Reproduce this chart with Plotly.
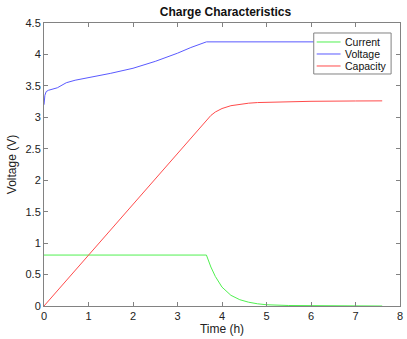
import plotly.graph_objects as go

# Time samples (h)
t_current = [0, 1, 2, 3, 3.65, 3.75, 3.85, 4.0, 4.2, 4.4, 4.6, 4.8, 5.0, 5.5, 6.0, 7.0, 7.6]
current = [0.81, 0.81, 0.81, 0.81, 0.81, 0.62, 0.47, 0.30, 0.17, 0.10, 0.06, 0.035, 0.02, 0.008, 0.004, 0.001, 0.0]

t_voltage = [0, 0.02, 0.05, 0.1, 0.3, 0.5, 0.7, 1.0, 1.5, 2.0, 2.5, 3.0, 3.3, 3.65, 5.0, 7.6]
voltage = [3.2, 3.35, 3.41, 3.43, 3.47, 3.55, 3.59, 3.63, 3.70, 3.78, 3.89, 4.02, 4.11, 4.20, 4.20, 4.20]

t_capacity = [0, 3.65, 3.75, 3.85, 4.0, 4.2, 4.4, 4.6, 4.8, 5.0, 5.5, 6.0, 7.0, 7.6]
capacity = [0, 2.96, 3.03, 3.085, 3.14, 3.185, 3.21, 3.225, 3.235, 3.24, 3.25, 3.255, 3.26, 3.262]

series_names = ["Current", "Voltage", "Capacity"]
series_colors = ["rgb(80,240,80)", "rgb(90,90,255)", "rgb(255,75,75)"]

x_ticks = [0, 1, 2, 3, 4, 5, 6, 7, 8]
y_ticks = [0, 0.5, 1, 1.5, 2, 2.5, 3, 3.5, 4, 4.5]
y_labels = ["0", "0.5", "1", "1.5", "2", "2.5", "3", "3.5", "4", "4.5"]

font = "Liberation Sans, Arial, sans-serif"
frame = "rgb(130,130,130)"

fig = go.Figure()
for xs, ys, name, color in zip([t_current, t_voltage, t_capacity],
                               [current, voltage, capacity],
                               series_names, series_colors):
    fig.add_trace(go.Scatter(x=xs, y=ys, mode="lines", name=name,
                             line=dict(color=color, width=1), showlegend=False))

# Compact legend box (Octave style)
fig.add_shape(type="rect", xref="paper", yref="paper", x0=0.7577, x1=0.975,
              y0=0.8198, y1=0.9647, line=dict(color=frame, width=1), fillcolor="white",
              layer="above")
row_y = [0.9329, 0.8905, 0.8481]
for name, color, yy in zip(series_names, series_colors, row_y):
    fig.add_shape(type="line", xref="paper", yref="paper", x0=0.766, x1=0.833,
                  y0=yy, y1=yy, line=dict(color=color, width=1), layer="above")
    fig.add_annotation(xref="paper", yref="paper", x=0.839, y=yy, text=name,
                       showarrow=False, xanchor="left", yanchor="middle",
                       font=dict(family=font, size=10.5, color="#111"))

axis_common = dict(showgrid=False, zeroline=False, showline=True, mirror="ticks",
                   linecolor=frame, linewidth=1, ticks="inside",
                   ticklen=4, tickcolor=frame,
                   tickfont=dict(family=font, size=11, color="#222"))

fig.update_layout(
    width=407, height=339,
    margin=dict(l=44, r=4, t=23, b=33),
    paper_bgcolor="white", plot_bgcolor="white",
    title=dict(text="<b>Charge Characteristics</b>", x=0.554, xanchor="center",
               y=0.965, yanchor="middle", font=dict(family=font, size=12, color="#111")),
    xaxis=dict(range=[0, 8], tickvals=x_ticks, title=dict(text="Time (h)", standoff=2,
               font=dict(family=font, size=12, color="#222")), **axis_common),
    yaxis=dict(range=[0, 4.5], tickvals=y_ticks, ticktext=y_labels,
               title=dict(text="Voltage (V)", standoff=6,
                          font=dict(family=font, size=12, color="#222")), **axis_common),
    showlegend=False,
)

fig.write_html("out.html", config={"displayModeBar": False},
               post_script="document.body.style.margin='0';")
